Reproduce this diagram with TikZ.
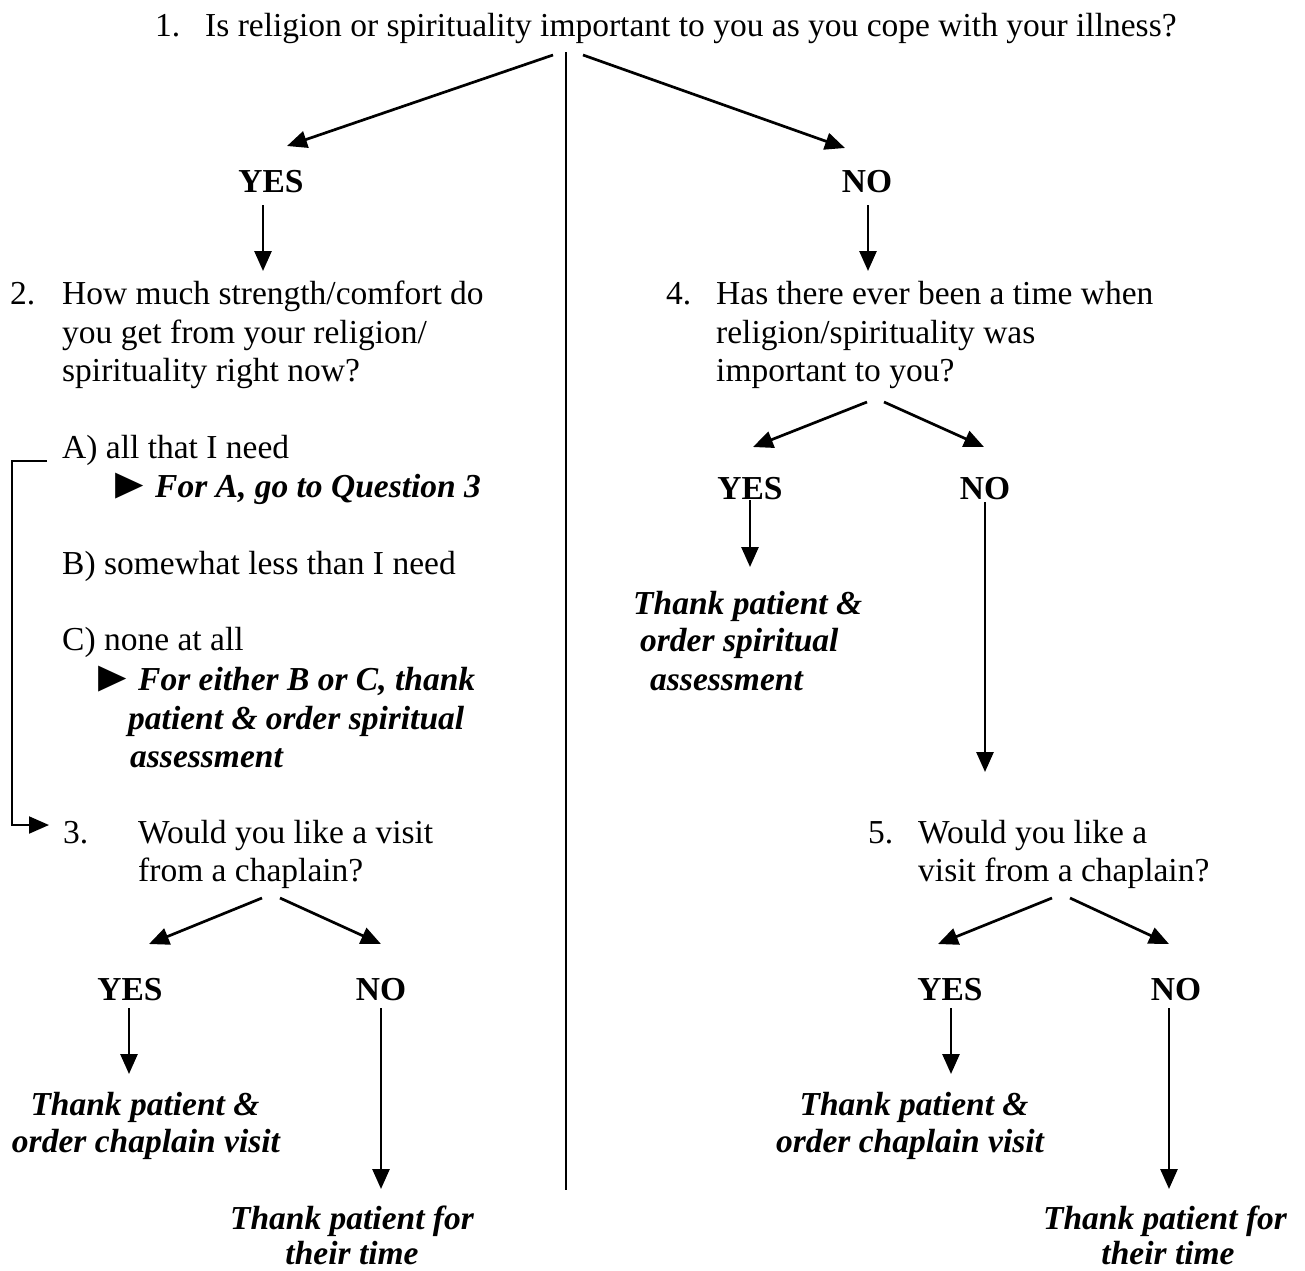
\documentclass[tikz,border=0pt]{standalone}
\usepackage{fontspec}
\setmainfont{Liberation Serif}
\usetikzlibrary{arrows.meta}
\begin{document}
\begin{tikzpicture}[x=1pt,y=-1pt,
  txt/.style={inner sep=0pt, yshift=-1.5pt, font=\fontsize{33.5}{38.5}\selectfont, anchor=base west},
  bi/.style={inner sep=0pt, yshift=-1.5pt, font=\fontsize{33.5}{38.5}\selectfont\bfseries\itshape, anchor=base west},
  bc/.style={inner sep=0pt, yshift=-1.5pt, font=\fontsize{33.5}{38.5}\selectfont\bfseries\itshape, anchor=base},
  yn/.style={inner sep=0pt, yshift=-1.5pt, font=\fontsize{33.5}{38.5}\selectfont\bfseries, anchor=base},
  tri/.style={inner sep=0pt, yshift=-1.5pt, font=\fontsize{33.5}{38.5}\selectfont, anchor=base west},
  arr/.style={line width=2.7pt, -{Triangle[length=20pt,width=17pt]}},
  brk/.style={line width=2pt},
  div/.style={line width=2pt}]
\useasboundingbox (0,0) rectangle (1305,1270);

% ---------- Question 1 ----------
\node[txt] (q1n) at (155,34.5) {1.};
\node[txt] (q1) at (205,34.5) {Is religion or spirituality important to you as you cope with your illness?};
\coordinate (divtop) at (566,52);
\coordinate (divbot) at (566,1190);
\draw[div] (divtop) -- (divbot);

\node[yn] (yes1) at (271,191) {YES};
\node[yn] (no1) at (867,191) {NO};
\coordinate (q1L) at (553,55);
\coordinate (q1R) at (583,55);
\coordinate (yes1in) at (287,146);
\coordinate (no1in) at (845,148);
\draw[arr] (q1L) -- (yes1in);
\draw[arr] (q1R) -- (no1in);

% ---------- Question 2 ----------
\node[txt] (q2n) at (10,303) {2.};
\node[txt] (q2a) at (62,303) {How much strength/comfort do};
\node[txt] (q2b) at (62,342) {you get from your religion/};
\node[txt] (q2c) at (62,380) {spirituality right now?};
\coordinate (yes1out) at (263,205);
\coordinate (q2in) at (263,271);
\draw[arr] (yes1out) -- (q2in);

\node[txt] (optA) at (62,457) {A) all that I need};
\node[tri] (triA) at (106,497) {\scalebox{1.4}[1.3]{►}};
\node[bi] (goA) at (155,496) {For A, go to Question 3};
\node[txt] (optB) at (62,573) {B) somewhat less than I need};
\node[txt] (optC) at (62,649) {C) none at all};
\node[tri] (triC) at (89,690) {\scalebox{1.4}[1.3]{►}};
\node[bi] (bc1) at (138,689) {For either B or C, thank};
\node[bi] (bc2) at (128,728) {patient \& order spiritual};
\node[bi] (bc3) at (130,766) {assessment};

% ---------- Question 3 ----------
\node[txt] (q3n) at (63,842) {3.};
\node[txt] (q3a) at (138,842) {Would you like a visit};
\node[txt] (q3b) at (138,880) {from a chaplain?};
\coordinate (brkA) at (47,461);
\coordinate (brkB) at (49,825);
\draw[brk] (brkA) -- (12,461) -- (12,825) -- (20,825);
\draw[arr, line width=2pt] (12,825) -- (brkB);

\node[yn] (yes3) at (130,999) {YES};
\node[yn] (no3) at (381,999) {NO};
\coordinate (q3L) at (262,898);
\coordinate (q3R) at (280,898);
\coordinate (yes3in) at (149,944);
\coordinate (no3in) at (381,944);
\draw[arr] (q3L) -- (yes3in);
\draw[arr] (q3R) -- (no3in);

\node[bc] (t3a) at (145,1114) {Thank patient \&};
\node[bc] (t3b) at (146,1151) {order chaplain visit};
\node[bc] (t3c) at (352,1228) {Thank patient for};
\node[bc] (t3d) at (352,1263) {their time};
\coordinate (yes3out) at (129,1008);
\coordinate (t3in) at (129,1074);
\coordinate (no3out) at (381,1008);
\coordinate (t3cin) at (381,1189);
\draw[arr] (yes3out) -- (t3in);
\draw[arr] (no3out) -- (t3cin);

% ---------- Question 4 ----------
\node[txt] (q4n) at (666,303) {4.};
\node[txt] (q4a) at (716,303) {Has there ever been a time when};
\node[txt] (q4b) at (716,342) {religion/spirituality was};
\node[txt] (q4c) at (716,380) {important to you?};
\coordinate (no1out) at (868,205);
\coordinate (q4in) at (868,271);
\draw[arr] (no1out) -- (q4in);

\node[yn] (yes4) at (750,498) {YES};
\node[yn] (no4) at (985,498) {NO};
\coordinate (q4L) at (867,402);
\coordinate (q4R) at (884,402);
\coordinate (yes4in) at (753,447);
\coordinate (no4in) at (984,447);
\draw[arr] (q4L) -- (yes4in);
\draw[arr] (q4R) -- (no4in);

\node[bi] (t4a) at (633,613) {Thank patient \&};
\node[bi] (t4b) at (640,650) {order spiritual};
\node[bi] (t4c) at (650,689) {assessment};
\coordinate (yes4out) at (750,500);
\coordinate (t4in) at (750,567);
\draw[arr] (yes4out) -- (t4in);

% ---------- Question 5 ----------
\node[txt] (q5n) at (868,842) {5.};
\node[txt] (q5a) at (918,842) {Would you like a};
\node[txt] (q5b) at (918,880) {visit from a chaplain?};
\coordinate (no4out) at (985,502);
\coordinate (q5in) at (985,772);
\draw[arr] (no4out) -- (q5in);

\node[yn] (yes5) at (950,999) {YES};
\node[yn] (no5) at (1176,999) {NO};
\coordinate (q5L) at (1052,898);
\coordinate (q5R) at (1070,898);
\coordinate (yes5in) at (938,944);
\coordinate (no5in) at (1169,944);
\draw[arr] (q5L) -- (yes5in);
\draw[arr] (q5R) -- (no5in);

\node[bc] (t5a) at (914,1114) {Thank patient \&};
\node[bc] (t5b) at (910,1151) {order chaplain visit};
\node[bc] (t5c) at (1165,1228) {Thank patient for};
\node[bc] (t5d) at (1168,1263) {their time};
\coordinate (yes5out) at (951,1008);
\coordinate (t5in) at (951,1074);
\coordinate (no5out) at (1169,1008);
\coordinate (t5cin) at (1169,1189);
\draw[arr] (yes5out) -- (t5in);
\draw[arr] (no5out) -- (t5cin);
\end{tikzpicture}
\end{document}
